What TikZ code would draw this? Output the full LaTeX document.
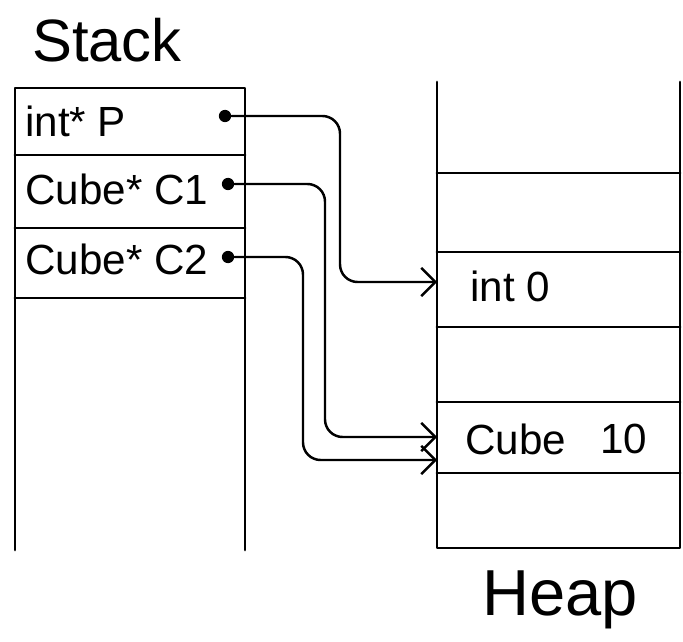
\documentclass[tikz,border=0pt]{standalone}
\usepackage{fontspec}
\setmainfont{Liberation Sans}
\usetikzlibrary{arrows.meta, positioning, calc}

\begin{document}
\begin{tikzpicture}[>={Straight Barb[length=8pt,width=16pt]}, line cap=round, line join=round]
    % Styles
    \tikzset{
        wall/.style={line width=1.6pt, black},
        pointer/.style={line width=1.4pt, black, rounded corners=10pt, ->},
        celltext/.style={anchor=west, inner sep=0pt, font=\fontsize{24}{28}\selectfont},
        title/.style={inner sep=0pt, font=\fontsize{34}{40}\selectfont},
        ptrdot/.style={circle, fill=black, inner sep=0pt, minimum size=7pt}
    }
    \useasboundingbox (0,0) rectangle (13.66,-12.82);

    % --- Stack ---
    \coordinate (S_tl) at (0.30,-1.76);
    \coordinate (S_tr) at (4.90,-1.76);
    \coordinate (S_bl) at (0.30,-11.00);
    \coordinate (S_br) at (4.90,-11.00);
    \draw[wall] (S_bl) -- (S_tl) -- (S_tr) -- (S_br);
    \foreach \y in {-3.10,-4.56,-5.96}
        \draw[wall] (0.30,\y) -- (4.90,\y);
    \node[title] (stack_lbl) at (2.14,-0.80) {Stack};

    \node[celltext] (P_text) at (0.50,-2.42) {int* P};
    \node[celltext] (C1_text) at (0.50,-3.78) {Cube* C1};
    \node[celltext] (C2_text) at (0.50,-5.18) {Cube* C2};
    \node[ptrdot] (P_dot) at (4.50,-2.32) {};
    \node[ptrdot] (C1_dot) at (4.56,-3.68) {};
    \node[ptrdot] (C2_dot) at (4.56,-5.14) {};

    % --- Heap ---
    \coordinate (H_tl) at (8.74,-1.64);
    \coordinate (H_tr) at (13.60,-1.64);
    \coordinate (H_bl) at (8.74,-10.96);
    \coordinate (H_br) at (13.60,-10.96);
    \draw[wall] (H_tl) -- (H_bl) -- (H_br) -- (H_tr);
    \foreach \y in {-3.46,-5.04,-6.54,-8.04,-9.46}
        \draw[wall] (8.74,\y) -- (13.60,\y);
    \node[title, font=\fontsize{37}{44}\selectfont] (heap_lbl) at (11.20,-12.00) {Heap};

    \node[celltext] (int_text) at (9.40,-5.72) {int 0};
    \node[celltext] (cube_text) at (9.30,-8.78) {Cube};
    \node[celltext] (ten_text) at (12.00,-8.78) {10};

    % --- Pointers ---
    \coordinate (int_in) at (8.74,-5.64);
    \coordinate (cube_in1) at (8.74,-8.74);
    \coordinate (cube_in2) at (8.74,-9.20);
    \coordinate (P_bend) at (6.80,-5.64);
    \coordinate (C1_bend) at (6.50,-8.74);
    \coordinate (C2_bend) at (6.06,-9.20);

    \draw[pointer] (P_dot) -| (P_bend) -- (int_in);
    \draw[pointer] (C1_dot) -| (C1_bend) -- (cube_in1);
    \draw[pointer] (C2_dot) -| (C2_bend) -- (cube_in2);

\end{tikzpicture}
\end{document}
